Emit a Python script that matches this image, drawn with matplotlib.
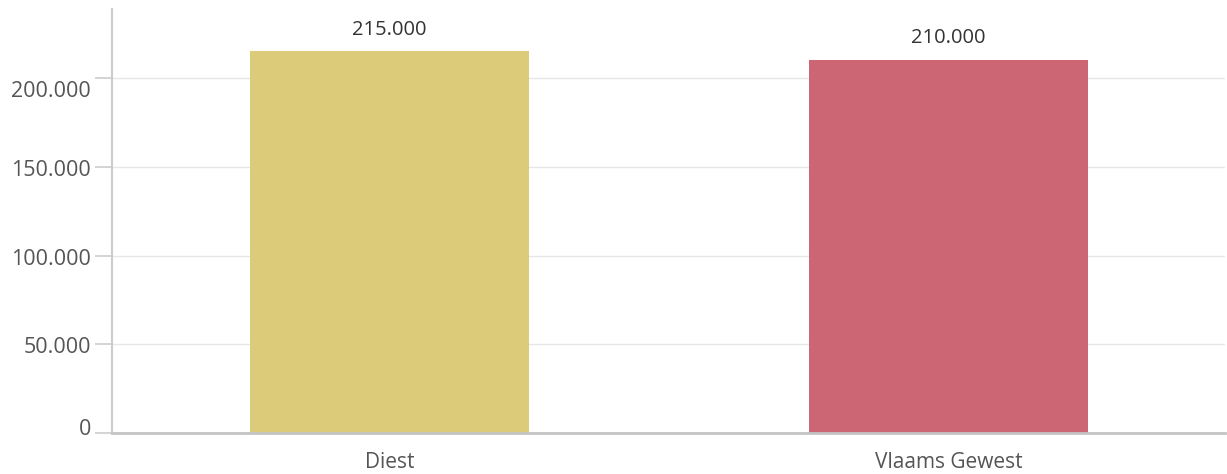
import matplotlib
matplotlib.use("Agg")
import matplotlib.pyplot as plt
from matplotlib.ticker import FuncFormatter
import matplotlib.transforms as mtransforms

categories = ["Diest", "Vlaams Gewest"]
values = [215000, 210000]
colors = ["#DCCB78", "#CC6674"]
yticks = [0, 50000, 100000, 150000, 200000]

plt.rcParams['font.family'] = ['Open Sans', 'DejaVu Sans']

fig = plt.figure(figsize=(12.27, 4.74), dpi=100)
ax = fig.add_axes([112/1227, 41/474, (1225-112)/1227, (433-9)/474])

x = list(range(len(categories)))
bars = ax.bar(x, values, width=0.5, color=colors, zorder=2)
ax.set_xlim(-0.497, 1.495)
ax.set_ylim(0, 238900)

def fmt(v, pos=None):
    return f"{int(v):,}".replace(",", ".")

ax.set_yticks(yticks)
ax.yaxis.set_major_formatter(FuncFormatter(fmt))
ax.set_xticks(x)
ax.set_xticklabels(categories)

ax.grid(axis='y', color='#e6e6e6', linewidth=1, zorder=0)
ax.grid(axis='x', visible=False)
for s in ['top', 'right']:
    ax.spines[s].set_visible(False)
ax.spines['left'].set_color('#cccccc')
ax.spines['left'].set_linewidth(1.5)
ax.spines['bottom'].set_color('#c4c4c4')
ax.spines['bottom'].set_linewidth(2)

ax.tick_params(axis='y', length=12, width=1.2, color='#cccccc', labelsize=15.5,
               labelcolor='#555555', pad=3)
ax.tick_params(axis='x', length=0, labelsize=15, labelcolor='#555555', pad=14)

# edge labels are pushed inward (first up, last down)
labels = ax.get_yticklabels()
shifts = {0: 6, len(labels) - 1: -11}
for i, lab in enumerate(labels):
    dy = shifts.get(i, -1)
    off = mtransforms.ScaledTranslation(0, dy/100, fig.dpi_scale_trans)
    lab.set_transform(lab.get_transform() + off)

for xi, v in zip(x, values):
    ax.annotate(fmt(v), (xi, v), xytext=(0, 8.5), textcoords='offset points',
                ha='center', va='bottom', fontsize=14.5, color='#333333')

fig.savefig("out.png", dpi=100)
